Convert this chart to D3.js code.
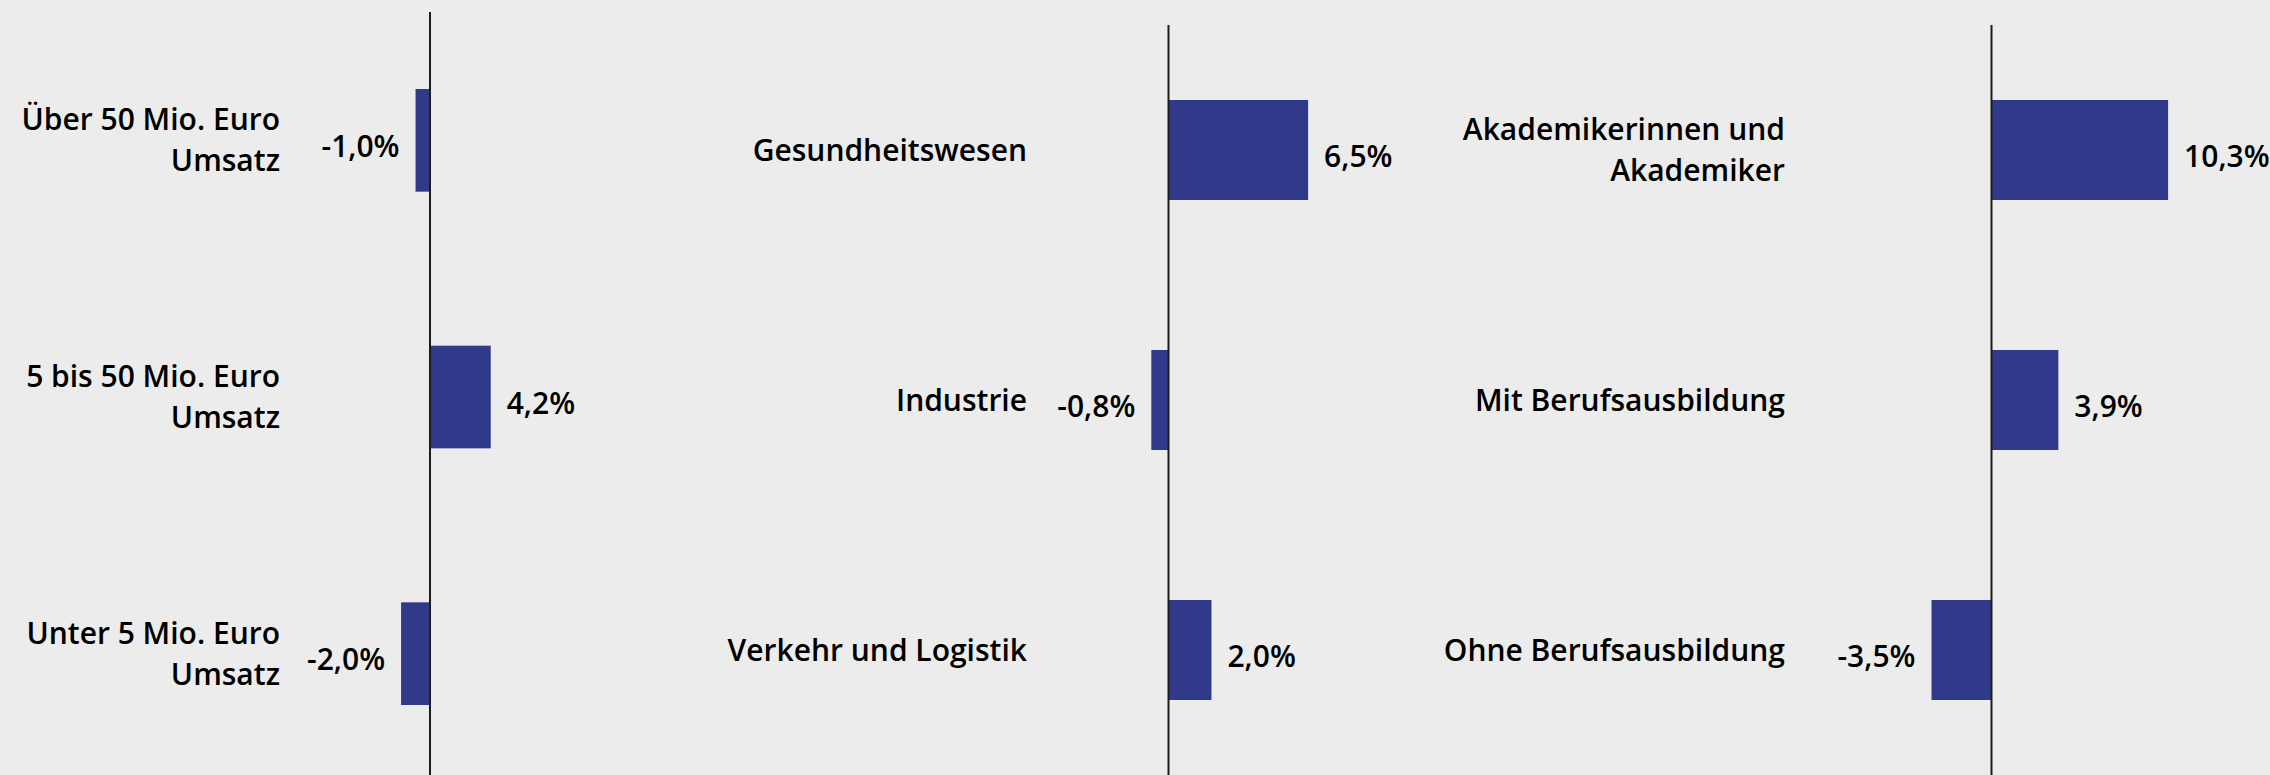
<!DOCTYPE html>
<html>
<head>
<meta charset="utf-8">
<script src="https://cdn.jsdelivr.net/npm/d3@7"></script>
<style>
    html, body { margin: 0; padding: 0; background: #ebeceb; }
    svg { display: block; }
</style>
</head>
<body>
<div id="chart"></div>
<script>
// Veränderung in Prozent, drei Teilgrafiken nebeneinander

// Unternehmensgröße
const sizeCategories = ["Über 50 Mio. Euro\nUmsatz", "5 bis 50 Mio. Euro\nUmsatz", "Unter 5 Mio. Euro\nUmsatz"];
const sizeValues = [-1.0, 4.2, -2.0];

// Branchen
const branchCategories = ["Gesundheitswesen", "Industrie", "Verkehr und Logistik"];
const branchValues = [6.5, -0.8, 2.0];

// Qualifikation
const qualCategories = ["Akademikerinnen und\nAkademiker", "Mit Berufsausbildung", "Ohne Berufsausbildung"];
const qualValues = [10.3, 3.9, -3.5];

const width = 2270;
const height = 775;
const barColor = "#31398a";
const fontFamily = "'Open Sans', 'Noto Sans', sans-serif";
const fontSize = "30px";

// German number format with a plain hyphen as minus
const de = d3.formatLocale({ decimal: ",", thousands: ".", grouping: [3], currency: ["", " €"], minus: "-" });
const fmt = v => de.format(".1f")(v) + "%";

const panels = [
    { categories: sizeCategories, values: sizeValues, axisX: 430, maxBar: 60.7, yRange: [12, 782], labelRight: 280 },
    { categories: branchCategories, values: branchValues, axisX: 1168.5, maxBar: 139.6, yRange: [25, 775], labelRight: 1027 },
    { categories: qualCategories, values: qualValues, axisX: 1991.5, maxBar: 176.6, yRange: [25, 775], labelRight: 1785 }
];

const svg = d3.select("#chart")
    .append("svg")
    .attr("width", width)
    .attr("height", height);

svg.append("rect")
    .attr("width", width)
    .attr("height", height)
    .attr("fill", "#ebeceb");

panels.forEach(p => {
    const maxVal = d3.max(p.values);
    const x = d3.scaleLinear()
        .domain([0, maxVal])
        .range([p.axisX, p.axisX + p.maxBar]);

    const y = d3.scaleBand()
        .domain(p.categories)
        .range(p.yRange)
        .paddingInner(0.6)
        .paddingOuter(0.3);

    const rows = p.categories.map((c, i) => ({ cat: c, val: p.values[i] }));
    const g = svg.append("g");

    // bars
    g.selectAll("rect.bar")
        .data(rows)
        .join("rect")
        .attr("class", "bar")
        .attr("x", d => Math.min(x(0), x(d.val)))
        .attr("y", d => y(d.cat))
        .attr("width", d => Math.abs(x(d.val) - x(0)))
        .attr("height", y.bandwidth())
        .attr("fill", barColor);

    // zero line
    g.append("line")
        .attr("x1", x(0))
        .attr("x2", x(0))
        .attr("y1", p.yRange[0])
        .attr("y2", p.yRange[1])
        .attr("stroke", "#1c1c1c")
        .attr("stroke-width", 2);

    // value labels
    g.selectAll("text.value")
        .data(rows)
        .join("text")
        .attr("class", "value")
        .attr("x", d => d.val >= 0 ? x(d.val) + 16 : x(d.val) - 16)
        .attr("y", d => y(d.cat) + y.bandwidth() / 2 + 6)
        .attr("dy", "0.35em")
        .attr("text-anchor", d => d.val >= 0 ? "start" : "end")
        .attr("font-family", fontFamily)
        .attr("font-size", fontSize)
        .attr("font-weight", 600)
        .attr("fill", "#000")
        .text(d => fmt(d.val));

    // category labels (may wrap on two lines)
    const lineH = 41;
    const cats = g.selectAll("text.cat")
        .data(rows)
        .join("text")
        .attr("class", "cat")
        .attr("text-anchor", "end")
        .attr("font-family", fontFamily)
        .attr("font-size", fontSize)
        .attr("font-weight", 600)
        .attr("fill", "#000");

    cats.each(function(d) {
        const lines = d.cat.split("\n");
        const cy = y(d.cat) + y.bandwidth() / 2;
        const top = cy - (lines.length - 1) * lineH / 2;
        d3.select(this).selectAll("tspan")
            .data(lines)
            .join("tspan")
            .attr("x", p.labelRight)
            .attr("y", (l, i) => top + i * lineH)
            .attr("dy", "0.35em")
            .text(l => l);
    });
});
</script>
</body>
</html>
